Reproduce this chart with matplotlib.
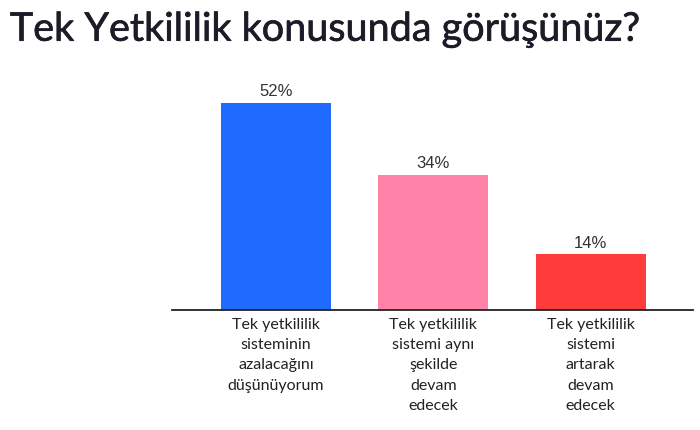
import matplotlib
matplotlib.use("Agg")
import matplotlib.pyplot as plt
import matplotlib.patheffects as pe

categories = [
    "Tek yetkililik\nsisteminin\nazalacağını\ndüşünüyorum",
    "Tek yetkililik\nsistemi aynı\nşekilde\ndevam\nedecek",
    "Tek yetkililik\nsistemi\nartarak\ndevam\nedecek",
]
values = [52, 34, 14]
value_labels = ["52%", "34%", "14%"]
colors = ["#1f6bff", "#ff82a9", "#ff3b3b"]

fig = plt.figure(figsize=(7, 4.3), dpi=100)
ax = fig.add_axes([0.2457, 0.279, 0.7443, 0.535])

x = range(len(values))
bars = ax.bar(x, values, width=0.70, color=colors)
for b, lab in zip(bars, value_labels):
    ax.text(b.get_x() + b.get_width() / 2, b.get_height() + 0.9, lab,
            ha="center", va="bottom", fontsize=12, color="#333333",
            family="Liberation Sans")

ax.set_xlim(-0.66, 2.65)
ax.set_ylim(0, 57.8)
for s in ["top", "right", "left"]:
    ax.spines[s].set_visible(False)
ax.spines["bottom"].set_color("#222222")
ax.spines["bottom"].set_linewidth(1.3)
ax.set_yticks([])
ax.set_xticks(list(x))
ax.set_xticklabels(categories, fontsize=11.5, color="#222222", family="Lato",
                   linespacing=1.55)
ax.tick_params(axis="x", length=0, pad=6)

title = fig.text(0.014, 0.975, "Tek Yetkililik konusunda görüşünüz?", fontsize=28.5,
                 color="#1c1c28", family="Lato", va="top", ha="left")
# a thin outline to get a medium weight
title.set_path_effects([pe.withStroke(linewidth=0.45, foreground="#1c1c28")])

fig.savefig("out.png", dpi=100, facecolor="white")
